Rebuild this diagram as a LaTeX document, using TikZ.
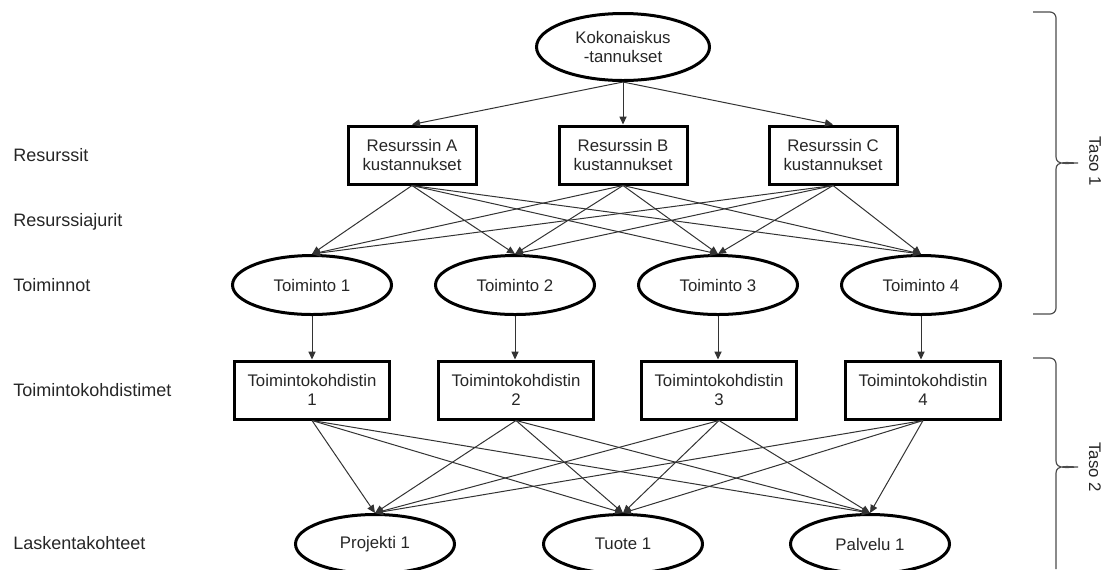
\documentclass[tikz,border=0pt]{standalone}
\usepackage{fontspec}
\setmainfont{Liberation Sans}
\usetikzlibrary{positioning,arrows.meta,shapes.geometric}

\begin{document}
\begin{tikzpicture}[
  x=0.5pt, y=-0.5pt,
  font=\fontsize{8.4}{9.5}\selectfont,
  >={Triangle[length=4pt,width=3.6pt]},
  box/.style={draw, line width=1.5pt, align=center, inner sep=1pt,
              minimum height=29pt, text=black!85},
  res/.style={box, minimum width=64pt},
  kohd/.style={box, minimum width=77.5pt},
  oval/.style={ellipse, draw, line width=1.5pt, align=center, inner sep=0pt,
               minimum width=79.5pt, minimum height=29.5pt, text=black!85},
  arr/.style={->, line width=0.5pt, black!80},
  lvl/.style={anchor=base west, inner sep=0pt, font=\fontsize{9}{11}\selectfont, text=black!85},
  brc/.style={line width=0.6pt, black!70},
]
\useasboundingbox (0,0) rectangle (1111,569);

%% ---------- level labels ----------
\node[lvl] (lres)  at (13,161) {Resurssit};
\node[lvl] (ljur)  at (13,226) {Resurssiajurit};
\node[lvl] (ltoim) at (13,291) {Toiminnot};
\node[lvl] (lkohd) at (13,396) {Toimintokohdistimet};
\node[lvl] (llask) at (13,549) {Laskentakohteet};

%% ---------- total costs and resources ----------
\node[oval, minimum width=86.5pt, minimum height=33.5pt] (kok) at (623,47) {Kokonaiskus\\-tannukset};

\node[res] (resA) at (412,155) {Resurssin A\\kustannukset};
\node[res] (resB) at (623,155) {Resurssin B\\kustannukset};
\node[res] (resC) at (833,155) {Resurssin C\\kustannukset};

\draw[arr] (kok.south) -- (resA.north);
\draw[arr] (kok.south) -- (resB.north);
\draw[arr] (kok.south) -- (resC.north);

%% ---------- activities ----------
\node[oval] (toim1) at (312,285) {Toiminto 1};
\node[oval] (toim2) at (515,285) {Toiminto 2};
\node[oval] (toim3) at (718,285) {Toiminto 3};
\node[oval] (toim4) at (921,285) {Toiminto 4};

\draw[arr] (resA.south) -- (toim1.north);
\draw[arr] (resA.south) -- (toim2.north);
\draw[arr] (resA.south) -- (toim3.north);
\draw[arr] (resA.south) -- (toim4.north);
\draw[arr] (resB.south) -- (toim1.north);
\draw[arr] (resB.south) -- (toim2.north);
\draw[arr] (resB.south) -- (toim3.north);
\draw[arr] (resB.south) -- (toim4.north);
\draw[arr] (resC.south) -- (toim1.north);
\draw[arr] (resC.south) -- (toim2.north);
\draw[arr] (resC.south) -- (toim3.north);
\draw[arr] (resC.south) -- (toim4.north);

%% ---------- activity drivers ----------
\node[kohd] (kohd1) at (312,390) {Toimintokohdistin\\1};
\node[kohd] (kohd2) at (516,390) {Toimintokohdistin\\2};
\node[kohd] (kohd3) at (719,390) {Toimintokohdistin\\3};
\node[kohd] (kohd4) at (923,390) {Toimintokohdistin\\4};

\draw[arr] (toim1.south) -- (toim1.south |- kohd1.north);
\draw[arr] (toim2.south) -- (toim2.south |- kohd2.north);
\draw[arr] (toim3.south) -- (toim3.south |- kohd3.north);
\draw[arr] (toim4.south) -- (toim4.south |- kohd4.north);

%% ---------- cost objects ----------
\node[oval] (proj) at (375,544) {Projekti 1};
\node[oval] (tuote) at (623,544) {Tuote 1};
\node[oval] (palv) at (870,544) {Palvelu 1};

\draw[arr] (kohd1.south) -- (proj.north);
\draw[arr] (kohd1.south) -- (tuote.north);
\draw[arr] (kohd1.south) -- (palv.north);
\draw[arr] (kohd2.south) -- (proj.north);
\draw[arr] (kohd2.south) -- (tuote.north);
\draw[arr] (kohd2.south) -- (palv.north);
\draw[arr] (kohd3.south) -- (proj.north);
\draw[arr] (kohd3.south) -- (tuote.north);
\draw[arr] (kohd3.south) -- (palv.north);
\draw[arr] (kohd4.south) -- (proj.north);
\draw[arr] (kohd4.south) -- (tuote.north);
\draw[arr] (kohd4.south) -- (palv.north);

%% ---------- levels (braces) ----------
\draw[brc] (1033,12) -- (1050,12) to[out=0,in=90] (1056,18) -- (1056,157)
  to[out=-90,in=180] (1078,163) to[out=180,in=90] (1056,169) -- (1056,308)
  to[out=-90,in=0] (1050,314) -- (1033,314);
\node[rotate=-90, text=black!85] (taso1) at (1095,161) {Taso 1};

\draw[brc] (1033,358) -- (1050,358) to[out=0,in=90] (1056,364) -- (1056,461)
  to[out=-90,in=180] (1078,467) to[out=180,in=90] (1056,473) -- (1056,569);
\node[rotate=-90, text=black!85] (taso2) at (1095,467) {Taso 2};

\end{tikzpicture}
\end{document}
